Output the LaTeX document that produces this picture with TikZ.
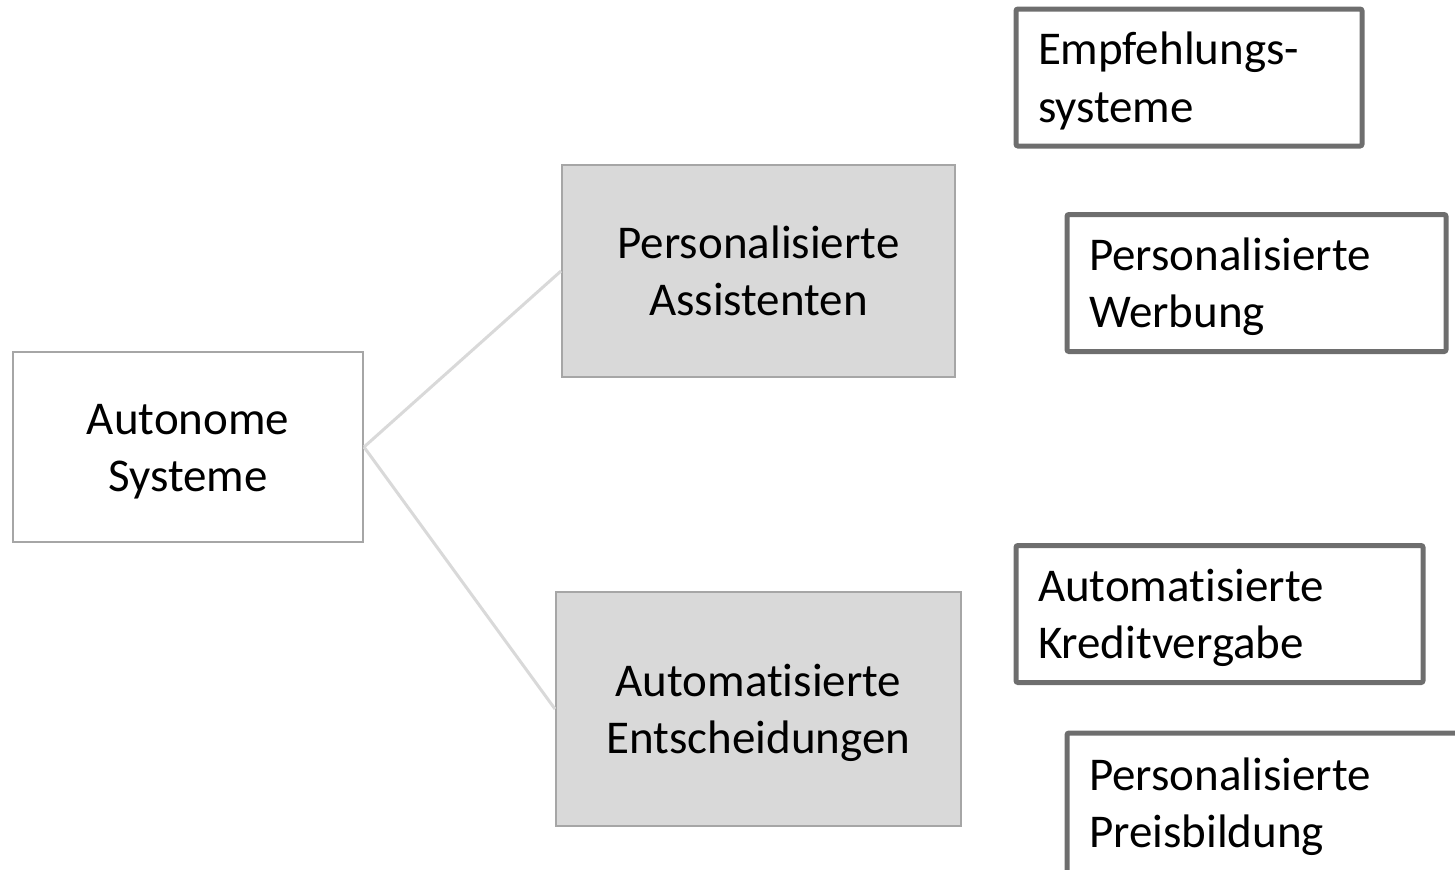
\documentclass[tikz,border=0pt]{standalone}
\usepackage{fontspec}
\setmainfont{Carlito}[RawFeature={-liga;-clig;-calt;-dlig}]
\definecolor{framegray}{RGB}{166, 166, 166}
\definecolor{fillgray}{RGB}{217, 217, 217}
\definecolor{linkgray}{RGB}{217, 217, 217}
\definecolor{leafgray}{RGB}{110, 110, 110}
\usetikzlibrary{positioning}
\newcommand{\lstrut}{\rule[-0.269em]{0pt}{1.221em}}

\begin{document}
\begin{tikzpicture}[
  x=0.5pt, y=-0.5pt,
  every node/.style={font=\fontsize{23.5pt}{28.7pt}\selectfont},
  rootbox/.style={draw=framegray, line width=1pt, fill=white, align=center},
  groupbox/.style={draw=framegray, line width=1pt, fill=fillgray, align=center},
  leafbox/.style={draw=leafgray, line width=2.5pt, rounded corners=1pt, align=left, inner xsep=11pt, minimum height=68.5pt},
  link/.style={draw=linkgray, line width=1.5pt}
]
  \useasboundingbox (0,0) rectangle (1455,869);

  \node[rootbox, minimum width=175pt, minimum height=95pt] (auto) at (188, 447) {\lstrut Autonome\\\lstrut Systeme};

  \node[groupbox, minimum width=196.5pt, minimum height=106pt] (assist) at (758.5, 271) {\lstrut Personalisierte\\\lstrut Assistenten};
  \node[groupbox, minimum width=202.5pt, minimum height=117pt] (decide) at (758.5, 709) {\lstrut Automatisierte\\\lstrut Entscheidungen};

  \node[leafbox, text width=151pt] (recsys) at (1189, 77.5) {\lstrut Empfehlungs-\\\lstrut systeme};
  \node[leafbox, text width=167.5pt] (ads) at (1256.5, 283) {\lstrut Personalisierte\\\lstrut Werbung};
  \node[leafbox, text width=181.5pt] (credit) at (1219.5, 614) {\lstrut Automatisierte\\\lstrut Kreditvergabe};
  \node[leafbox, text width=179.5pt, minimum height=70pt] (pricing) at (1268.5, 803) {\lstrut Personalisierte\\\lstrut Preisbildung};

  \draw[link] (auto.east) -- (assist.west);
  \draw[link] (auto.east) -- (decide.west);
\end{tikzpicture}
\end{document}
